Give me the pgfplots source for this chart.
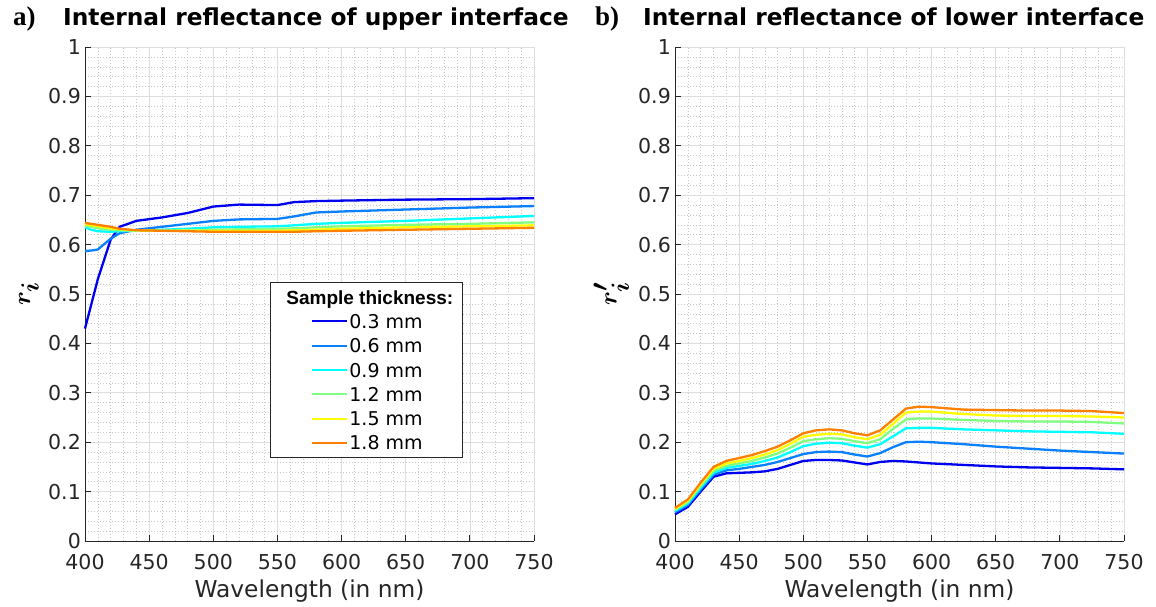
\documentclass[border=0pt]{standalone}
\usepackage{pgfplots}
\usepackage{pgfplotstable}
\pgfplotsset{compat=1.18}
\usepackage{amsmath}
\usepackage{fontspec}
\setmainfont{DejaVu Sans}
\newfontfamily\serifbf{Liberation Serif}
\newfontfamily\arialf{Liberation Sans}
\definecolor{c1}{RGB}{0,0,240}
\definecolor{c2}{RGB}{10,128,255}
\definecolor{c3}{RGB}{0,255,255}
\definecolor{c4}{RGB}{128,255,128}
\definecolor{c5}{RGB}{255,255,0}
\definecolor{c6}{RGB}{255,128,0}
\definecolor{axgray}{RGB}{38,38,38}
\definecolor{majgrid}{RGB}{222,222,222}
\definecolor{mingrid}{RGB}{200,200,200}

\pgfplotstableread{
wl    c1    c2    c3    c4    c5    c6
400 0.430 0.587 0.635 0.638 0.641 0.644
405 0.480 0.588 0.630 0.636 0.639 0.642
410 0.530 0.590 0.627 0.633 0.637 0.640
420 0.610 0.612 0.626 0.630 0.633 0.636
427 0.636 0.623 0.627 0.629 0.631 0.632
440 0.648 0.630 0.628 0.628 0.629 0.629
460 0.655 0.636 0.630 0.628 0.628 0.628
480 0.664 0.642 0.632 0.629 0.628 0.627
500 0.677 0.648 0.635 0.630 0.628 0.626
520 0.681 0.651 0.636 0.631 0.628 0.626
550 0.680 0.652 0.637 0.632 0.628 0.626
563 0.686 0.657 0.639 0.633 0.629 0.626
580 0.688 0.665 0.642 0.635 0.630 0.627
600 0.689 0.667 0.644 0.637 0.632 0.628
650 0.691 0.671 0.648 0.640 0.635 0.630
700 0.692 0.675 0.653 0.642 0.637 0.632
750 0.694 0.678 0.658 0.645 0.639 0.634
}\tabUpper

\pgfplotstableread{
wl    c1    c2    c3    c4    c5    c6
400 0.054 0.058 0.061 0.063 0.065 0.067
410 0.069 0.073 0.076 0.079 0.082 0.084
420 0.100 0.104 0.108 0.112 0.115 0.118
430 0.130 0.134 0.138 0.142 0.146 0.150
440 0.137 0.143 0.148 0.152 0.157 0.162
450 0.138 0.146 0.152 0.157 0.162 0.168
460 0.139 0.150 0.156 0.162 0.168 0.174
470 0.141 0.154 0.162 0.169 0.175 0.182
480 0.146 0.160 0.169 0.177 0.184 0.191
490 0.154 0.168 0.180 0.189 0.197 0.204
500 0.162 0.176 0.192 0.202 0.211 0.218
510 0.164 0.180 0.197 0.206 0.215 0.224
520 0.164 0.181 0.199 0.208 0.217 0.226
530 0.163 0.180 0.198 0.207 0.216 0.224
540 0.159 0.175 0.193 0.202 0.210 0.218
550 0.155 0.171 0.189 0.198 0.206 0.214
560 0.160 0.178 0.196 0.206 0.215 0.224
570 0.162 0.190 0.212 0.227 0.237 0.246
580 0.161 0.200 0.228 0.246 0.260 0.268
590 0.159 0.201 0.229 0.248 0.262 0.272
600 0.157 0.200 0.229 0.248 0.262 0.271
625 0.154 0.196 0.226 0.245 0.257 0.266
650 0.151 0.191 0.224 0.243 0.254 0.265
675 0.149 0.187 0.222 0.242 0.253 0.264
700 0.148 0.183 0.221 0.242 0.253 0.264
725 0.147 0.180 0.220 0.241 0.252 0.263
750 0.145 0.177 0.217 0.238 0.250 0.259
}\tabLower

\pgfplotsset{
  myaxis/.style={
    scale only axis, anchor=south west,
    width=449pt, height=494pt,
    xmin=400, xmax=750, ymin=0, ymax=1,
    xtick={400,450,500,550,600,650,700,750},
    xticklabels={400,450,500,550,600,650,700,750},
    ytick={0,0.1,0.2,0.3,0.4,0.5,0.6,0.7,0.8,0.9,1},
    yticklabels={0,0.1,0.2,0.3,0.4,0.5,0.6,0.7,0.8,0.9,1},
    minor x tick num=4, minor y tick num=4,
    axis lines*=left,
    axis line style={axgray, line width=0.8pt},
    major tick style={axgray, line width=0.8pt},
    major tick length=6pt, minor tick length=0pt,
    tick align=inside,
    grid=both,
    major grid style={majgrid, line width=0.7pt},
    minor grid style={mingrid, line width=0.5pt, dash pattern=on 1pt off 2pt},
    tick label style={font=\fontsize{20.5}{24}\selectfont, text=axgray, inner sep=0pt},
    xticklabel style={anchor=base, yshift=-29pt},
    yticklabel style={anchor=east, xshift=-4pt},
    xlabel={Wavelength (in nm)},
    xlabel style={font=\fontsize{23.3}{27}\selectfont, text=axgray, at={(axis description cs:0.5,0)}, anchor=base, yshift=-57pt, inner sep=0pt},
    ylabel style={font=\fontsize{34}{38}\selectfont, rotate=0, inner sep=0pt, anchor=center},
    every axis plot/.append style={line width=2.3pt, no marks},
    clip=false,
  }
}

\begin{document}
\begin{tikzpicture}
\useasboundingbox (0,0) rectangle (1156pt,607pt);

\begin{axis}[myaxis, at={(85pt,66pt)},
  ylabel={$\boldsymbol{r_i}$},
  ylabel style={at={(axis description cs:-0.125,0.5)}},
  legend cell align=left,
  legend image code/.code={\path[draw=none,fill=none] (0pt,0pt) -- (70pt,0pt); \draw[#1, line width=2pt] (33pt,0pt) -- (68pt,0pt);},
  legend style={at={(0.412,0.524)}, anchor=north west, draw=axgray, line width=0.8pt,
    font=\fontsize{19}{22}\selectfont, fill=white, inner xsep=9pt, inner ysep=2.5pt,
    row sep=0pt, column sep=0pt,
    nodes={inner xsep=0pt, inner ysep=5.2pt, text height=13.9pt, text depth=0pt}},
]
\addlegendimage{empty legend}
\addlegendentry{\hspace*{-63pt}{\arialf\bfseries\fontsize{19}{22}\selectfont Sample thickness:}}
\addplot[c1] table[x=wl,y=c1] {\tabUpper};
\addlegendentry{0.3 mm}
\addplot[c2] table[x=wl,y=c2] {\tabUpper};
\addlegendentry{0.6 mm}
\addplot[c3] table[x=wl,y=c3] {\tabUpper};
\addlegendentry{0.9 mm}
\addplot[c4] table[x=wl,y=c4] {\tabUpper};
\addlegendentry{1.2 mm}
\addplot[c5] table[x=wl,y=c5] {\tabUpper};
\addlegendentry{1.5 mm}
\addplot[c6] table[x=wl,y=c6] {\tabUpper};
\addlegendentry{1.8 mm}
\end{axis}

\begin{axis}[myaxis, at={(675pt,66pt)},
  ylabel={$\boldsymbol{r_i'}$},
  ylabel style={at={(axis description cs:-0.142,0.5)}},
]
\addplot[c1] table[x=wl,y=c1] {\tabLower};
\addplot[c2] table[x=wl,y=c2] {\tabLower};
\addplot[c3] table[x=wl,y=c3] {\tabLower};
\addplot[c4] table[x=wl,y=c4] {\tabLower};
\addplot[c5] table[x=wl,y=c5] {\tabLower};
\addplot[c6] table[x=wl,y=c6] {\tabLower};
\end{axis}

\node[anchor=base west, inner sep=0pt, font=\serifbf\bfseries\fontsize{27}{30}\selectfont] at (13pt,581pt) {a)};
\node[anchor=base west, inner sep=0pt, font=\bfseries\fontsize{23.3}{27}\selectfont] at (63pt,581pt) {Internal reflectance of upper interface};
\node[anchor=base west, inner sep=0pt, font=\serifbf\bfseries\fontsize{27}{30}\selectfont] at (595pt,581pt) {b)};
\node[anchor=base west, inner sep=0pt, font=\bfseries\fontsize{23.3}{27}\selectfont] at (643pt,581pt) {Internal reflectance of lower interface};
\end{tikzpicture}
\end{document}
